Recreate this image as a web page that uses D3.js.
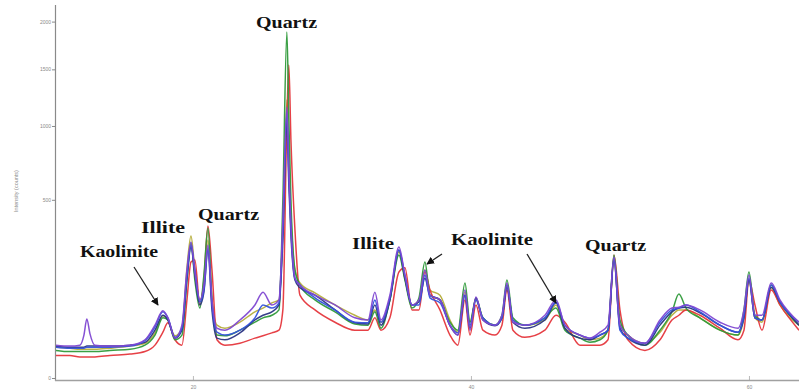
<!DOCTYPE html>
<html>
<head>
<meta charset="utf-8">
<script src="https://cdn.jsdelivr.net/npm/d3@7"></script>
<style>
  html, body { margin: 0; padding: 0; background: #fff; }
  svg { display: block; }
</style>
</head>
<body>
<div id="chart"></div>
<script>
const twoTheta = [10.15, 11.15, 11.87, 12.16, 12.37, 12.59, 12.95, 14.03, 15.47, 16.55,
  17.27, 17.84, 18.2, 18.71, 19.21, 19.57, 19.86, 20.14, 20.5, 20.79,
  21.08, 21.37, 21.73, 22.3, 23.38, 24.46, 25.04, 25.68, 26.19, 26.47,
  26.76, 26.9, 27.05, 27.34, 27.7, 28.78, 30.22, 31.65, 32.59, 33.09,
  33.53, 34.17, 34.82, 35.25, 35.76, 36.26, 36.69, 37.05, 37.77, 38.49,
  39.06, 39.57, 39.93, 40.36, 40.86, 41.73, 42.23, 42.59, 43.02, 43.88,
  45.32, 46.12, 46.76, 47.84, 48.56, 49.28, 49.86, 50.29, 50.72, 51.29,
  52.52, 53.6, 54.46, 54.96, 55.47, 56.47, 57.91, 59.21, 59.64, 60.0,
  60.43, 60.94, 61.6, 62.23, 63.6];

// intensity (counts) per sample
const olive = [15, 14, 13, 13, 13, 13, 13, 14, 16, 19,
  32, 61, 53, 28, 39, 191, 318, 184, 96, 136,
  300, 96, 44, 39, 49, 69, 77, 89, 96, 345,
  1217, 748, 418, 184, 142, 114, 84, 62, 53, 73,
  49, 96, 250, 157, 84, 96, 184, 122, 108, 53,
  33, 116, 49, 96, 57, 44, 57, 136, 53, 44,
  53, 84, 39, 29, 23, 25, 36, 219, 44, 29,
  19, 33, 62, 73, 73, 57, 36, 29, 57, 151,
  57, 49, 128, 84, 44];

const red = [8, 8, 7, 7, 7, 7, 7, 8, 9, 11,
  17, 33, 48, 23, 17, 96, 212, 219, 84, 151,
  364, 184, 23, 17, 19, 25, 28, 32, 36, 73,
  1048, 1542, 892, 345, 108, 73, 49, 36, 36, 57,
  36, 57, 177, 191, 73, 73, 177, 122, 73, 29,
  17, 96, 29, 84, 36, 29, 44, 122, 36, 26,
  36, 62, 49, 17, 17, 17, 23, 238, 73, 23,
  12, 23, 53, 62, 73, 62, 39, 23, 36, 151,
  84, 36, 122, 84, 36];

const green = [12, 11, 11, 11, 11, 11, 11, 12, 13, 17,
  29, 57, 53, 23, 29, 151, 287, 151, 77, 167,
  354, 96, 29, 28, 36, 49, 57, 62, 73, 499,
  1885, 1048, 499, 184, 136, 96, 69, 46, 44, 69,
  39, 96, 238, 151, 77, 101, 212, 108, 96, 49,
  36, 142, 49, 101, 57, 44, 62, 151, 57, 44,
  57, 77, 36, 25, 20, 23, 36, 238, 53, 29,
  17, 36, 69, 111, 77, 57, 36, 29, 73, 177,
  62, 53, 136, 91, 44];

const navy = [16, 15, 15, 15, 16, 16, 16, 16, 17, 20,
  36, 62, 53, 25, 36, 157, 270, 167, 84, 116,
  258, 73, 25, 23, 32, 53, 62, 69, 84, 300,
  1024, 587, 322, 151, 128, 108, 73, 48, 46, 84,
  44, 96, 258, 157, 84, 91, 157, 108, 96, 43,
  29, 108, 39, 101, 53, 43, 57, 130, 49, 39,
  53, 89, 39, 25, 23, 29, 36, 219, 39, 25,
  17, 44, 69, 77, 79, 67, 44, 33, 57, 151,
  57, 53, 130, 91, 44];

const blue = [15, 14, 14, 14, 15, 15, 15, 15, 16, 22,
  41, 69, 57, 26, 39, 167, 279, 184, 91, 122,
  266, 84, 33, 29, 36, 57, 84, 77, 89, 345,
  1105, 649, 354, 157, 136, 101, 73, 49, 48, 96,
  49, 101, 258, 167, 84, 84, 167, 101, 89, 44,
  32, 108, 44, 96, 57, 44, 57, 136, 53, 44,
  57, 91, 44, 29, 25, 29, 36, 227, 36, 25,
  19, 49, 73, 77, 84, 69, 44, 33, 62, 157,
  57, 53, 136, 91, 49];

const purple = [17, 16, 17, 29, 55, 31, 17, 16, 17, 23,
  44, 71, 57, 25, 44, 184, 291, 177, 96, 136,
  279, 96, 39, 36, 53, 84, 116, 84, 96, 393,
  1156, 681, 369, 157, 136, 108, 84, 57, 53, 116,
  53, 108, 270, 167, 84, 96, 184, 108, 96, 44,
  29, 122, 36, 103, 53, 44, 62, 142, 49, 44,
  62, 96, 44, 29, 25, 33, 44, 230, 44, 29,
  19, 53, 77, 79, 84, 73, 49, 39, 73, 167,
  62, 62, 142, 96, 49];

const seriesList = [
  { name: 'olive', values: olive, color: '#b5ad3c' },
  { name: 'red', values: red, color: '#e5363c' },
  { name: 'green', values: green, color: '#2f9a3a' },
  { name: 'navy', values: navy, color: '#2b3483' },
  { name: 'blue', values: blue, color: '#3553dd' },
  { name: 'purple', values: purple, color: '#8048d2' }
];

const yTicks = [0, 500, 1000, 1500, 2000];
const xTicks = [20, 40, 60];

const width = 799, height = 390;

const svg = d3.select('#chart').append('svg')
  .attr('width', width)
  .attr('height', height);

const x = d3.scaleLinear().domain([10.15, 63.6]).range([56, 799]);
const y = d3.scaleSqrt().domain([0, 2200]).range([378, 4.2]);

svg.append('defs').append('clipPath').attr('id', 'plot')
  .append('rect').attr('x', 56).attr('y', 0).attr('width', 743).attr('height', 381);

// axes
const yAxis = svg.append('g')
  .attr('transform', 'translate(55,0)')
  .call(d3.axisLeft(y).tickValues(yTicks).tickFormat(d3.format('d')).tickSize(3).tickPadding(1));
yAxis.select('.domain').remove();
yAxis.selectAll('line').attr('stroke', '#8a8a8a');
yAxis.selectAll('text').attr('fill', '#8a8a8a').style('font', '5px Arial, sans-serif');

const xAxis = svg.append('g')
  .attr('transform', 'translate(0,380)')
  .call(d3.axisBottom(x).tickValues(xTicks).tickSizeInner(-4).tickSizeOuter(0).tickPadding(5));
xAxis.select('.domain').remove();
xAxis.selectAll('line').attr('stroke', '#bbbbbb');
xAxis.selectAll('text').attr('fill', '#8a8a8a').style('font', '5px Arial, sans-serif');

svg.append('line')
  .attr('x1', 55.5).attr('x2', 55.5).attr('y1', 5).attr('y2', 381)
  .attr('stroke', '#8a8a8a').attr('stroke-width', 1.2);
svg.append('line')
  .attr('x1', 55).attr('x2', 799).attr('y1', 380.5).attr('y2', 380.5)
  .attr('stroke', '#a0a0a0').attr('stroke-width', 1.4);

svg.append('text')
  .attr('transform', 'translate(18,191) rotate(-90)')
  .attr('text-anchor', 'middle')
  .attr('fill', '#8a8a8a')
  .style('font', '5.5px Arial, sans-serif')
  .text('Intensity (counts)');

// patterns
const line = d3.line()
  .x((d, i) => x(twoTheta[i]))
  .y(d => y(d))
  .curve(d3.curveMonotoneX);

svg.append('g').attr('clip-path', 'url(#plot)')
  .selectAll('path')
  .data(seriesList)
  .enter().append('path')
  .attr('d', d => line(d.values))
  .attr('fill', 'none')
  .attr('stroke', d => d.color)
  .attr('stroke-width', 1.5)
  .attr('stroke-linejoin', 'round')
  .attr('opacity', 0.95);

// mineral labels
const labels = [
  { text: 'Quartz', x: 256, y: 28, len: 61 },
  { text: 'Illite', x: 141, y: 233, len: 44 },
  { text: 'Quartz', x: 198, y: 220, len: 61 },
  { text: 'Kaolinite', x: 80, y: 257, len: 78 },
  { text: 'Illite', x: 352, y: 249, len: 42 },
  { text: 'Kaolinite', x: 451, y: 245, len: 82 },
  { text: 'Quartz', x: 585, y: 251, len: 61 }
];

svg.selectAll('.label')
  .data(labels)
  .enter().append('text')
  .attr('class', 'label')
  .attr('x', d => d.x)
  .attr('y', d => d.y)
  .attr('textLength', d => d.len)
  .attr('lengthAdjust', 'spacingAndGlyphs')
  .attr('fill', '#111')
  .style('font', 'bold 17px "Liberation Serif", "Times New Roman", serif')
  .text(d => d.text);

// arrows
svg.append('defs').append('marker')
  .attr('id', 'head')
  .attr('viewBox', '0 0 10 10')
  .attr('refX', 9).attr('refY', 5)
  .attr('markerWidth', 6).attr('markerHeight', 6)
  .attr('orient', 'auto')
  .append('path').attr('d', 'M0,0 L10,5 L0,10 z').attr('fill', '#111');

const arrows = [
  [134, 267, 158, 305],
  [442, 254, 427, 264],
  [527, 254, 556, 303]
];

svg.selectAll('.arrow')
  .data(arrows)
  .enter().append('line')
  .attr('class', 'arrow')
  .attr('x1', d => d[0]).attr('y1', d => d[1])
  .attr('x2', d => d[2]).attr('y2', d => d[3])
  .attr('stroke', '#222')
  .attr('stroke-width', 1.3)
  .attr('marker-end', 'url(#head)');
</script>
</body>
</html>
